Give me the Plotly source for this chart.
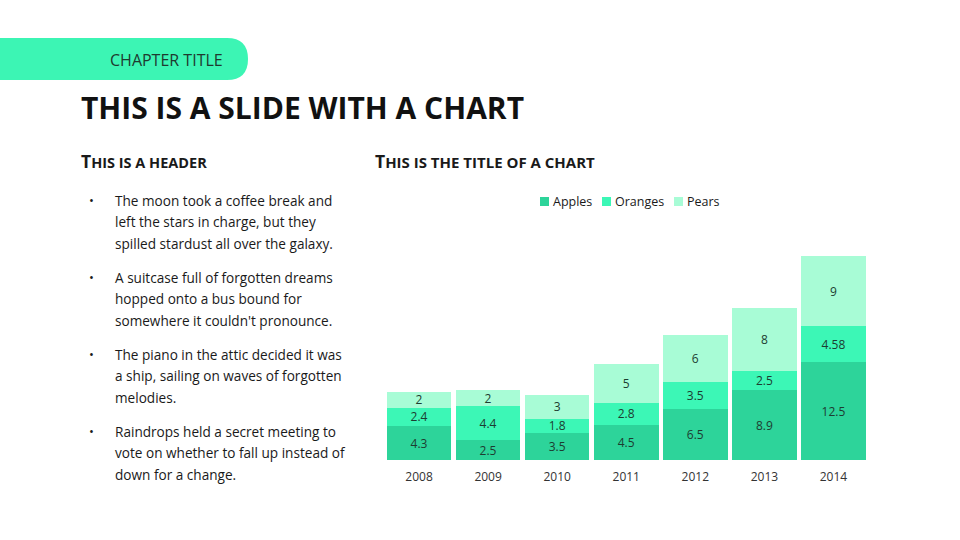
import plotly.graph_objects as go

W, H = 960, 540

years = ["2008", "2009", "2010", "2011", "2012", "2013", "2014"]
apples = [4.3, 2.5, 3.5, 4.5, 6.5, 8.9, 12.5]
oranges = [2.4, 4.4, 1.8, 2.8, 3.5, 2.5, 4.58]
pears = [2, 2, 3, 5, 6, 8, 9]
series_names = ["Apples", "Oranges", "Pears"]
series_colors = ["#2dd49a", "#3cf7b6", "#a8fcd6"]

bullets = [
    ["The moon took a coffee break and", "left the stars in charge, but they", "spilled stardust all over the galaxy."],
    ["A suitcase full of forgotten dreams", "hopped onto a bus bound for", "somewhere it couldn't pronounce."],
    ["The piano in the attic decided it was", "a ship, sailing on waves of forgotten", "melodies."],
    ["Raindrops held a secret meeting to", "vote on whether to fall up instead of", "down for a change."],
]

FONT = "Open Sans"
TEXT = "#1a1a1a"

def px(x):
    return x / W

def py(y):
    return 1 - y / H

fig = go.Figure()
for name, vals, col in zip(series_names, [apples, oranges, pears], series_colors):
    fig.add_trace(go.Bar(
        x=years, y=vals, name=name, marker=dict(color=col, line=dict(width=0)),
        text=[f"{v:g}" for v in vals], textposition="inside", insidetextanchor="middle",
        textangle=0, constraintext="none",
        textfont=dict(family=FONT, size=12, color="#1d3d31"),
        hoverinfo="skip", showlegend=False,
    ))

fig.update_layout(
    width=W, height=H, barmode="stack", bargap=0.066,
    margin=dict(l=0, r=0, t=0, b=0),
    paper_bgcolor="white", plot_bgcolor="white",
    showlegend=False,
    xaxis=dict(domain=[px(384.5), px(868)], range=[-0.5, 6.5], showgrid=False, showline=False,
               zeroline=False, ticks="", ticklabelstandoff=8,
               tickfont=dict(family=FONT, size=12, color="#333333")),
    yaxis=dict(domain=[py(460), py(250)], range=[0, 210 / 7.82], visible=False),
    uniformtext=dict(mode="show", minsize=8),
)

# pill shape
fig.add_shape(type="path", xref="paper", yref="paper",
              path=f"M 0,{py(38)} L {px(227)},{py(38)} Q {px(248)},{py(38)} {px(248)},{py(59)} "
                   f"Q {px(248)},{py(80)} {px(227)},{py(80)} L 0,{py(80)} Z",
              fillcolor="#3cf5b4", line=dict(width=0), layer="below")

def ann(x, y, text, size, color=TEXT, xanchor="left", family=FONT):
    fig.add_annotation(x=px(x), y=py(y), xref="paper", yref="paper", text=text, showarrow=False,
                       xanchor=xanchor, yanchor="middle", font=dict(family=family, size=size, color=color))

ann(108, 60, "CHAPTER TITLE", 16, "#1f3a30")
ann(79, 107, "<b>THIS IS A SLIDE WITH A CHART</b>", 30, "#111111")
ann(79, 161, "<b>T<span style='font-size:14.5px'>HIS IS A HEADER</span></b>", 17.5)
ann(373, 161, "<b>T<span style='font-size:15px'>HIS IS THE TITLE OF A CHART</span></b>", 17.5)

starts = [200, 277, 354, 431]
for s, lines in zip(starts, bullets):
    ann(87, s, "•", 13)
    for i, line in enumerate(lines):
        ann(113, s + i * 21.8, line, 13.6)

# legend (manual)
leg_x = [540, 602, 674]
for name, col, lx in zip(series_names, series_colors, leg_x):
    fig.add_shape(type="rect", xref="paper", yref="paper",
                  x0=px(lx), x1=px(lx + 9), y0=py(206), y1=py(197),
                  fillcolor=col, line=dict(width=0))
    ann(lx + 11, 201, name, 12.5)

fig.write_html("out.html", post_script="document.body.style.margin='0';",
               config={"displayModeBar": False})
